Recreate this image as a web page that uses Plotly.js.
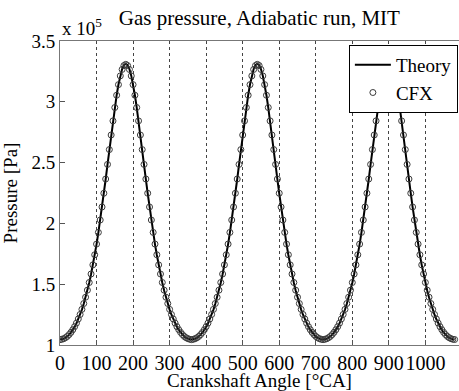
<!DOCTYPE html>
<html>
<head>
<meta charset="utf-8">
<script src="https://cdn.plot.ly/plotly-3.0.1.min.js"></script>
<style>
html,body{margin:0;padding:0;background:#fff;}
#chart{width:459px;height:391px;}
</style>
</head>
<body>
<div id="chart"></div>
<script>
// Crank angle step within one cycle [°CA] and number of cycles shown
const angleStep = 5;
const cycles = 3;

// Theory pressure over one 360° cycle (x 10^5 Pa), read every 5°
const theoryCycle = [
  1.045,1.047,1.051,1.059,1.070,1.085,1.103,1.124,1.149,1.178,1.212,1.249,
  1.291,1.339,1.391,1.449,1.512,1.582,1.657,1.740,1.828,1.924,2.026,2.133,
  2.246,2.363,2.483,2.605,2.725,2.842,2.952,3.054,3.142,3.215,3.269,3.302,
  3.313,3.302,3.269,3.215,3.142,3.054,2.952,2.842,2.725,2.605,2.483,2.363,
  2.246,2.133,2.026,1.924,1.828,1.740,1.657,1.582,1.512,1.449,1.391,1.339,
  1.291,1.249,1.212,1.178,1.149,1.124,1.103,1.085,1.070,1.059,1.051,1.047
];

// CFX pressure over one 360° cycle (x 10^5 Pa), read every 5°
const cfxCycle = [
  1.044,1.047,1.052,1.060,1.071,1.086,1.104,1.126,1.151,1.180,1.214,1.251,
  1.293,1.341,1.393,1.451,1.514,1.584,1.659,1.742,1.830,1.926,2.028,2.135,
  2.248,2.365,2.485,2.607,2.727,2.843,2.953,3.054,3.141,3.213,3.266,3.298,
  3.308,3.298,3.266,3.213,3.141,3.054,2.953,2.843,2.727,2.607,2.485,2.365,
  2.248,2.135,2.028,1.926,1.830,1.742,1.659,1.584,1.514,1.451,1.393,1.341,
  1.293,1.251,1.214,1.180,1.151,1.126,1.104,1.086,1.071,1.060,1.052,1.047
];
const endValue = 1.045;

const xTickVals = [0,100,200,300,400,500,600,700,800,900,1000];
const xTickText = ['0','100','200','300','400','500','600','700','800','900','1000'];
const yTickVals = [1,1.5,2,2.5,3,3.5];
const yTickText = ['1','1.5','2','2.5','3','3.5'];

// assemble full series (three identical cycles as shown)
const angles = [], theory = [], cfx = [];
for (let c = 0; c < cycles; c++) {
  for (let i = 0; i < theoryCycle.length; i++) {
    angles.push(c*360 + i*angleStep);
    theory.push(theoryCycle[i]);
    cfx.push(cfxCycle[i]);
  }
}
angles.push(cycles*360); theory.push(endValue); cfx.push(endValue);

const FONT = 'Liberation Serif, Times New Roman, serif';

const traces = [
  {x: angles, y: theory, type: 'scatter', mode: 'lines', name: 'Theory',
   line: {color: '#000', width: 2}},
  {x: angles, y: cfx, type: 'scatter', mode: 'markers', name: 'CFX',
   marker: {symbol: 'circle-open', size: 6, color: '#3a3a3a', line: {width: 1}}}
];

const layout = {
  width: 459, height: 391,
  margin: {l: 60, r: 0, t: 41, b: 46},
  paper_bgcolor: '#fff', plot_bgcolor: '#fff',
  font: {family: FONT, size: 19, color: '#000'},
  showlegend: true,
  title: {text: 'Gas pressure, Adiabatic run, MIT', font: {family: FONT, size: 21, color: '#000'},
          x: 0.565, xanchor: 'center', y: 0.955, yanchor: 'middle', yref: 'container'},
  xaxis: {
    range: [0, 1092], tickvals: xTickVals, ticktext: xTickText, tickangle: 0,
    ticks: 'inside', ticklen: 5, tickcolor: '#555',
    showline: true, linecolor: '#777', linewidth: 1, mirror: true,
    showgrid: true, gridcolor: '#444', gridwidth: 1, griddash: '3px,3px',
    zeroline: false, automargin: false,
    tickfont: {family: FONT, size: 20, color: '#000'},
    title: {text: 'Crankshaft Angle [°CA]', font: {family: FONT, size: 19, color: '#000'}, standoff: 3}
  },
  yaxis: {
    range: [1, 3.5], tickvals: yTickVals, ticktext: yTickText,
    ticks: 'inside', ticklen: 5, tickcolor: '#555',
    showline: true, linecolor: '#777', linewidth: 1, mirror: true,
    showgrid: false, zeroline: false, automargin: false,
    tickfont: {family: FONT, size: 19, color: '#000'},
    title: {text: 'Pressure [Pa]', font: {family: FONT, size: 19, color: '#000'}, standoff: 10}
  },
  legend: {
    x: 0.724, xanchor: 'left', y: 0.987, yanchor: 'top',
    bgcolor: '#fff', bordercolor: '#000', borderwidth: 1,
    font: {family: FONT, size: 19, color: '#000'},
    tracegroupgap: 0, itemwidth: 36
  },
  annotations: [{
    text: 'x 10<sup>5</sup>', xref: 'paper', yref: 'paper', x: 0, y: 1,
    xanchor: 'left', yanchor: 'bottom', showarrow: false, yshift: 0,
    font: {family: FONT, size: 19, color: '#000'}
  }]
};

Plotly.newPlot('chart', traces, layout, {staticPlot: true, displayModeBar: false});
</script>
</body>
</html>
